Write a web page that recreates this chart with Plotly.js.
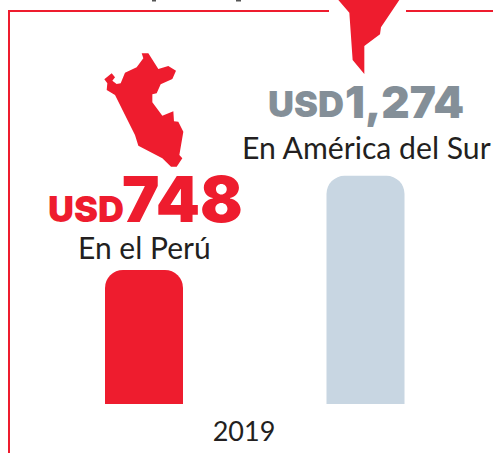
<!DOCTYPE html>
<html><head><meta charset="utf-8">
<script src="https://cdn.plot.ly/plotly-3.0.0.min.js"></script>
<style>html,body{margin:0;padding:0;background:#fff;overflow:hidden}</style></head>
<body><div id="c" style="width:493px;height:453px"></div>
<script>
const regions = ["En el Perú", "En América del Sur"];
const values = [748, 1274];
const valueLabels = ["748", "1,274"];
const colors = ["#EE1C2E", "#C8D6E2"];
const yearLabel = "2019";
const unit = "USD";
const peruMap = [[155,10],[175,10],[205,57],[235,48],[258,62],[247,87],[212,103],[200,130],[187,133],[187,157],[217,197],[250,184],[252,214],[265,215],[280,245],[268,315],[277,325],[260,350],[243,350],[217,325],[145,287],[135,255],[75,135],[50,120],[52,100],[43,88],[65,70],[75,82],[67,92],[80,102],[92,100],[105,68],[140,52],[160,25]];
const contMap = [[55,0],[88,38],[98,180],[133,222],[133,138],[180,103],[183,82],[238,0]];

const W = 493, P = 404;
const fy = y => 1 - y/P;
function path(pts, ox, oy){
  return pts.map((p,i)=>(i?'L':'M')+((ox+p[0]/3)/W).toFixed(4)+','+fy(oy+p[1]/3).toFixed(4)).join(' ')+' Z';
}
const red = colors[0], grey = '#848F98', ink = '#231F20';
const line = (x0,y0,x1,y1)=>({type:'line',xref:'paper',yref:'paper',x0:x0/W,y0:fy(y0),x1:x1/W,y1:fy(y1),line:{color:red,width:2},layer:'below'});
const tick = (x0,x1)=>({type:'rect',xref:'paper',yref:'paper',x0:x0/W,x1:x1/W,y0:fy(0),y1:fy(1.5),fillcolor:'#555',line:{width:0}});
const font = "Lato, 'Open Sans', sans-serif";
const heavy = "Inter, Lato, sans-serif";

const traces = values.map((v,i)=>({type:'bar',x:[i],y:[v],width:78/221.5,name:regions[i],
  marker:{color:colors[i],cornerradius:18,line:{width:0}},hoverinfo:'x+y',showlegend:false}));

const ann = (y,txt,size,color,x,weight)=>({xref:'paper',yref:'paper',x:x/W,y:fy(y),xanchor:'center',yanchor:'middle',showarrow:false,text:txt,
  font:{family:weight?heavy:font,size:size,color:color,weight:weight||400}});

const layout = {
  width:W,height:453,margin:{l:0,r:0,t:0,b:49},paper_bgcolor:'#fff',plot_bgcolor:'#fff',showlegend:false,
  xaxis:{range:[-144/221.5,(493-144)/221.5],tickvals:[100/221.5],ticktext:[yearLabel],ticks:'',ticklabelstandoff:9,showgrid:false,zeroline:false,showline:false,tickfont:{family:font,size:27,color:ink},fixedrange:true},
  yaxis:{range:[0,404*748/134],visible:false,fixedrange:true},
  shapes:[
    line(9,10,9,453),line(8,11,329,11),line(406,11,493,11),
    tick(152,156),tick(236,241),
    {type:'path',xref:'paper',yref:'paper',path:path(peruMap,90,50),fillcolor:red,line:{width:0}},
    {type:'path',xref:'paper',yref:'paper',path:path(contMap,320,0),fillcolor:red,line:{width:0}}
  ],
  annotations:[
    ann(209,unit,36,red,85.5,900),
    ann(199,valueLabels[0],63,red,182.5,900),
    ann(247,regions[0],30,ink,144),
    ann(104,unit,36,grey,306,900),
    ann(101.5,valueLabels[1],44,grey,404.5,900),
    ann(147,regions[1],30.2,ink,366)
  ]
};
Plotly.newPlot('c',traces,layout,{displayModeBar:false,staticPlot:true});
</script></body></html>
